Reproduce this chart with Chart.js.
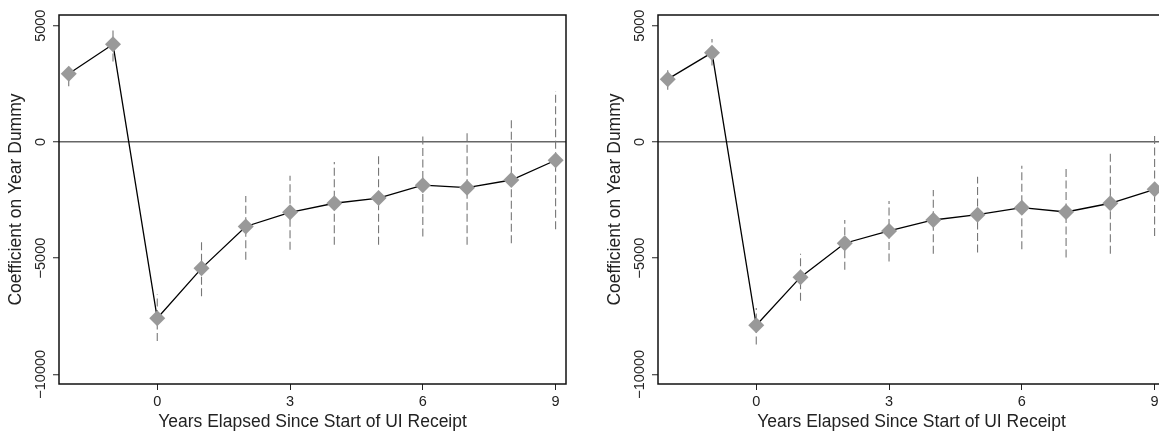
<!DOCTYPE html>
<html>
<head>
<meta charset="utf-8">
<script src="https://cdn.jsdelivr.net/npm/chart.js@4"></script>
<style>
    html, body { margin: 0; padding: 0; background: #fff; overflow: hidden; }
    .panel { position: absolute; top: 0; width: 600px; height: 433px; }
</style>
</head>
<body>
<div class="panel" style="left:0"><canvas id="leftChart" width="600" height="433"></canvas></div>
<div class="panel" style="left:599px"><canvas id="rightChart" width="600" height="433"></canvas></div>

<script>
// ================= DATA =================
const years = [-2, -1, 0, 1, 2, 3, 4, 5, 6, 7, 8, 9];

const leftCoef = [2930, 4200, -7590, -5440, -3640, -3030, -2640, -2415, -1860, -1970, -1640, -790];
const leftLow  = [2390, 3460, -8570, -6640, -5070, -4640, -4430, -4430, -4070, -4430, -4360, -3760];
const leftHigh = [3360, 4930, -6570, -4215, -2330, -1460, -860, -530, 360, 430, 1040, 2190];

const rightCoef = [2700, 3840, -7890, -5820, -4360, -3830, -3360, -3130, -2830, -3015, -2640, -2040];
const rightLow  = [2240, 3290, -8720, -6830, -5500, -5145, -4815, -4760, -4615, -4970, -4815, -4045];
const rightHigh = [3115, 4430, -7145, -4815, -3360, -2545, -2070, -1500, -1030, -1070, -500, 330];

const xTicks = [0, 3, 6, 9];
const yTicks = [-10000, -5000, 0, 5000];

const xTitle = "Years Elapsed Since Start of UI Receipt";
const yTitle = "Coefficient on Year Dummy";

const FONT = "'Liberation Sans', Arial, Helvetica, sans-serif";


// ================= PLUGINS =================
// frame round the plot area
const framePlugin = {
    id: "frame",
    afterDraw(chart) {
        const { ctx, chartArea } = chart;
        ctx.save();
        ctx.strokeStyle = "#111";
        ctx.lineWidth = 1.5;
        ctx.strokeRect(chartArea.left, chartArea.top,
            chartArea.right - chartArea.left, chartArea.bottom - chartArea.top);
        ctx.restore();
    }
};

// y tick labels are written sideways, as in the original
const sideLabels = {
    id: "sideLabels",
    afterDraw(chart) {
        const { ctx } = chart;
        const y = chart.scales.y;
        ctx.save();
        ctx.fillStyle = "#222";
        ctx.font = "14.5px " + FONT;
        ctx.textAlign = "center";
        ctx.textBaseline = "middle";
        y.ticks.forEach(t => {
            const py = y.getPixelForValue(t.value);
            const label = t.value < 0 ? "\u2212" + Math.abs(t.value) : String(t.value);
            ctx.save();
            ctx.translate(40.5, py);
            ctx.rotate(-Math.PI / 2);
            ctx.fillText(label, 0, 0);
            ctx.restore();
        });
        ctx.restore();
    }
};


// ================= CHART =================
function makePanel(canvasId, coef, low, high) {

    const pointData = years.map((x, i) => ({ x: x, y: coef[i] }));

    const barData = [];
    years.forEach((x, i) => {
        barData.push({ x: x, y: low[i] });
        barData.push({ x: x, y: high[i] });
        barData.push({ x: x, y: null });
    });

    return new Chart(document.getElementById(canvasId), {
        type: "line",
        data: {
            datasets: [
                {
                    data: pointData,
                    borderColor: "#000",
                    borderWidth: 1.3,
                    pointStyle: "rectRot",
                    pointRadius: 8,
                    pointBackgroundColor: "#999",
                    pointBorderColor: "#999",
                    pointBorderWidth: 0,
                    tension: 0
                },
                {
                    data: barData,
                    borderColor: "#777",
                    borderWidth: 1.1,
                    borderDash: [8, 3.5],
                    pointRadius: 0,
                    spanGaps: false,
                    tension: 0
                }
            ]
        },
        options: {
            responsive: false,
            animation: false,
            devicePixelRatio: 1,
            layout: { padding: { top: 15, right: 34, left: 0, bottom: 0 } },
            plugins: {
                legend: { display: false },
                tooltip: { enabled: false }
            },
            scales: {
                x: {
                    type: "linear",
                    min: -2.22,
                    max: 9.235,
                    afterBuildTicks: s => { s.ticks = xTicks.map(v => ({ value: v })); },
                    afterFit: s => { s.height = 49; },
                    grid: {
                        drawOnChartArea: false,
                        tickLength: 6,
                        tickColor: "#222",
                        tickWidth: 1
                    },
                    border: { display: false },
                    ticks: {
                        color: "#222",
                        font: { family: FONT, size: 14.5 },
                        padding: 3,
                        maxRotation: 0,
                        callback: v => String(v)
                    },
                    title: {
                        display: true,
                        text: xTitle,
                        color: "#222",
                        font: { family: FONT, size: 17.5 },
                        padding: { top: 0, bottom: 0 }
                    }
                },
                y: {
                    min: -10417,
                    max: 5460,
                    afterBuildTicks: s => { s.ticks = yTicks.map(v => ({ value: v })); },
                    afterFit: s => { s.width = 59; },
                    grid: {
                        color: c => (c.tick && c.tick.value === 0) ? "#666" : "rgba(0,0,0,0)",
                        lineWidth: 1.5,
                        tickLength: 6,
                        tickColor: "#222",
                        tickWidth: 1
                    },
                    border: { display: false },
                    ticks: { display: false },
                    title: {
                        display: true,
                        text: yTitle,
                        color: "#222",
                        font: { family: FONT, size: 17.5 },
                        padding: { top: 5.5, bottom: 0 }
                    }
                }
            }
        },
        plugins: [framePlugin, sideLabels]
    });
}

makePanel("leftChart", leftCoef, leftLow, leftHigh);
makePanel("rightChart", rightCoef, rightLow, rightHigh);
</script>
</body>
</html>
